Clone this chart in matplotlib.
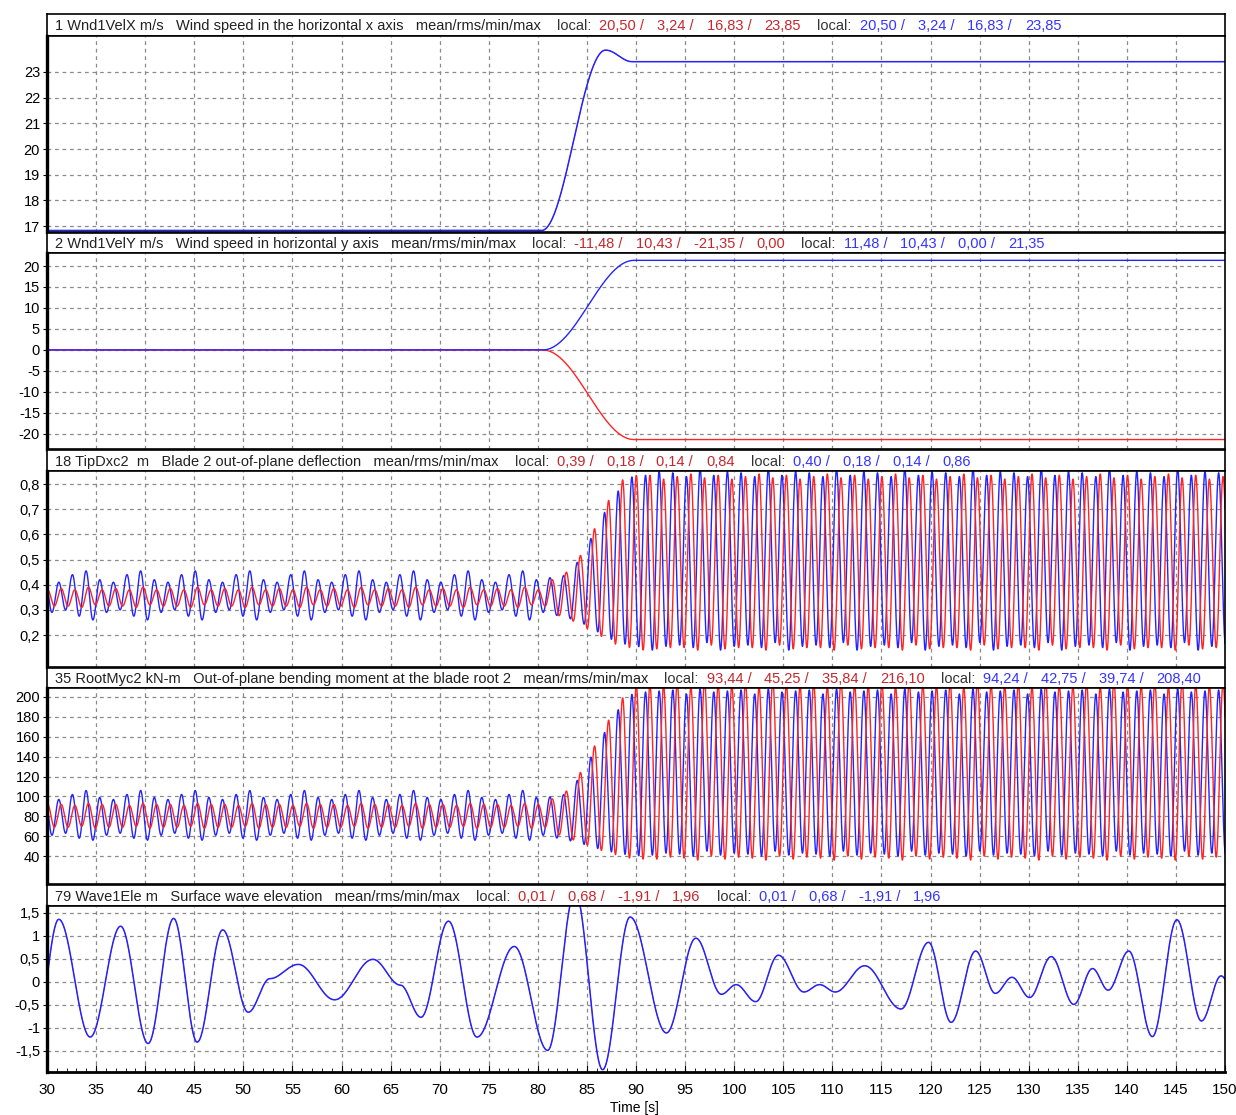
import numpy as np
import matplotlib
matplotlib.use("Agg")
import matplotlib.pyplot as plt
from matplotlib.ticker import MultipleLocator, FuncFormatter

plt.rcParams['font.family'] = ['Liberation Sans', 'DejaVu Sans']

BLUE = '#2323ff'
RED = '#ff2323'
TXT_RED = '#c4282c'
TXT_BLUE = '#3434ff'

# ---- channel 1 / 2: wind speed components (turning points) ----
wx_t = [30.0, 80.4, 86.9, 89.6, 150.0]
wx_v = [16.83, 16.83, 23.85, 23.40, 23.40]
wy_t = [30.0, 80.5, 89.8, 150.0]
wy_blue = [0.0, 0.0, 21.35, 21.35]
wy_red = [0.0, 0.0, -21.35, -21.35]

# ---- blade signals: rotor period and per-cycle peaks/troughs ----
rot_period = 1.39
first_peak = 31.2
ramp_t = [80.4, 81.8, 83.3, 84.6, 86.0, 87.4, 88.7, 90.1]
lag_t = [30.0, 80.0, 88.0, 150.0]
lag_red = [0.25, 0.2, 0.45, 0.45]

tip_pre_blue_hi = [0.41, 0.44, 0.455, 0.42]
tip_pre_blue_lo = [0.30, 0.275, 0.26, 0.29]
tip_pre_red_hi = [0.385, 0.38, 0.39, 0.38]
tip_pre_red_lo = [0.315, 0.31, 0.32, 0.315]
tip_ramp_blue_hi = [0.44, 0.42, 0.45, 0.52, 0.63, 0.73, 0.80, 0.845]
tip_ramp_blue_lo = [0.29, 0.27, 0.26, 0.23, 0.20, 0.17, 0.16, 0.15]
tip_ramp_red_hi = [0.42, 0.42, 0.46, 0.53, 0.64, 0.75, 0.82, 0.835]
tip_ramp_red_lo = [0.30, 0.27, 0.25, 0.22, 0.19, 0.16, 0.15, 0.14]
tip_post_blue_hi = [0.845, 0.83, 0.86, 0.835, 0.85]
tip_post_blue_lo = [0.16, 0.15, 0.17, 0.14, 0.155]
tip_post_red_hi = [0.83, 0.84, 0.825, 0.835, 0.82]
tip_post_red_lo = [0.15, 0.14, 0.16, 0.145, 0.15]

root_pre_blue_hi = [97, 102, 106, 99]
root_pre_blue_lo = [63, 58, 56, 61]
root_pre_red_hi = [92, 91, 93, 92]
root_pre_red_lo = [69, 70, 68, 69]
root_ramp_blue_hi = [102, 98, 105, 125, 150, 175, 195, 207]
root_ramp_blue_lo = [60, 57, 54, 50, 46, 43, 41, 40]
root_ramp_red_hi = [96, 98, 108, 128, 155, 180, 200, 212]
root_ramp_red_lo = [66, 60, 55, 50, 45, 41, 38, 37]
root_post_blue_hi = [207, 203, 208, 205, 206]
root_post_blue_lo = [42, 40, 45, 41, 43]
root_post_red_hi = [214, 210, 216, 212, 211]
root_post_red_lo = [38, 36, 40, 37, 39]

# ---- channel 79: wave elevation turning points ----
wave_t = [28.8, 31.2, 34.4, 37.5, 40.3, 42.9, 45.3, 47.9, 50.5, 52.7, 55.6, 59.3,
          63.2, 66.0, 68.1, 70.9, 73.8, 77.6, 81.0, 83.8, 86.6, 89.4, 93.1, 96.1,
          98.7, 100.2, 102.2, 104.5, 107.1, 108.7, 110.3, 113.3, 117.0, 119.8, 122.1,
          124.6, 126.6, 128.3, 130.1, 132.3, 134.6, 136.5, 138.1, 140.2, 142.6, 145.1,
          147.6, 149.6, 151.5]
wave_v = [-1.2, 1.36, -1.2, 1.21, -1.34, 1.38, -1.31, 1.13, -0.66, 0.07, 0.38, -0.39,
          0.49, -0.07, -0.77, 1.32, -1.2, 0.77, -1.49, 1.96, -1.91, 1.41, -1.11, 0.95,
          -0.27, -0.06, -0.43, 0.58, -0.22, -0.06, -0.22, 0.35, -0.59, 0.86, -0.88,
          0.67, -0.25, 0.10, -0.34, 0.55, -0.49, 0.29, -0.18, 0.67, -1.19, 1.35,
          -0.85, 0.13, -0.6]

# header statistics: mean / rms / min / max
stats = [
    ([20.50, 3.24, 16.83, 23.85], [20.50, 3.24, 16.83, 23.85]),
    ([-11.48, 10.43, -21.35, 0.00], [11.48, 10.43, 0.00, 21.35]),
    ([0.39, 0.18, 0.14, 0.84], [0.40, 0.18, 0.14, 0.86]),
    ([93.44, 45.25, 35.84, 216.10], [94.24, 42.75, 39.74, 208.40]),
    ([0.01, 0.68, -1.91, 1.96], [0.01, 0.68, -1.91, 1.96]),
]
titles = [
    "1 Wnd1VelX m/s   Wind speed in the horizontal x axis   mean/rms/min/max",
    "2 Wnd1VelY m/s   Wind speed in horizontal y axis   mean/rms/min/max",
    "18 TipDxc2  m   Blade 2 out-of-plane deflection   mean/rms/min/max",
    "35 RootMyc2 kN-m   Out-of-plane bending moment at the blade root 2   mean/rms/min/max",
    "79 Wave1Ele m   Surface wave elevation   mean/rms/min/max",
]
yticks = [
    [17, 18, 19, 20, 21, 22, 23],
    [-20, -15, -10, -5, 0, 5, 10, 15, 20],
    [0.2, 0.3, 0.4, 0.5, 0.6, 0.7, 0.8],
    [40, 60, 80, 100, 120, 140, 160, 180, 200],
    [-1.5, -1, -0.5, 0, 0.5, 1, 1.5],
]
ylims = [(16.77, 24.4), (-23.6, 23.1), (0.073, 0.852), (12, 209), (-1.96, 1.65)]
rows = [(14, 36, 232), (233, 253, 449), (450, 471, 667), (668, 688, 884), (885, 906, 1072)]

t = np.linspace(30, 150, 24001)


def through(tk, vk):
    # half-cosine segments between successive turning points
    tk = np.asarray(tk, float)
    vk = np.asarray(vk, float)
    i = np.clip(np.searchsorted(tk, t, side='right') - 1, 0, len(tk) - 2)
    s = np.clip((t - tk[i]) / (tk[i + 1] - tk[i]), 0, 1)
    return vk[i] + (vk[i + 1] - vk[i]) * (1 - np.cos(np.pi * s)) / 2


def blade(pre_hi, pre_lo, ramp_hi, ramp_lo, post_hi, post_lo, lag=None):
    tk, vk = [], []
    for k in range(-1, 88):
        tp = first_peak + k * rot_period
        if lag is not None:
            tp += np.interp(tp, lag_t, lag)
        if tp < ramp_t[0]:
            hi, lo = pre_hi[k % len(pre_hi)], pre_lo[k % len(pre_lo)]
        elif tp <= ramp_t[-1]:
            hi, lo = np.interp(tp, ramp_t, ramp_hi), np.interp(tp, ramp_t, ramp_lo)
        else:
            hi, lo = post_hi[k % len(post_hi)], post_lo[k % len(post_lo)]
        tk += [tp, tp + rot_period / 2]
        vk += [hi, lo]
    return through(tk, vk)


# (colour, values, linewidth) drawn in order
series = [
    [(RED, through(wx_t, wx_v), 0.5), (BLUE, through(wx_t, wx_v), 1.1)],
    [(RED, through(wy_t, wy_red), 1.0), (BLUE, through(wy_t, wy_blue), 1.0)],
    [(BLUE, blade(tip_pre_blue_hi, tip_pre_blue_lo, tip_ramp_blue_hi, tip_ramp_blue_lo,
                  tip_post_blue_hi, tip_post_blue_lo), 1.0),
     (RED, blade(tip_pre_red_hi, tip_pre_red_lo, tip_ramp_red_hi, tip_ramp_red_lo,
                 tip_post_red_hi, tip_post_red_lo, lag_red), 1.0)],
    [(BLUE, blade(root_pre_blue_hi, root_pre_blue_lo, root_ramp_blue_hi, root_ramp_blue_lo,
                  root_post_blue_hi, root_post_blue_lo), 1.0),
     (RED, blade(root_pre_red_hi, root_pre_red_lo, root_ramp_red_hi, root_ramp_red_lo,
                 root_post_red_hi, root_post_red_lo, lag_red), 1.0)],
    [(RED, through(wave_t, wave_v), 0.5), (BLUE, through(wave_t, wave_v), 1.1)],
]

W, H = 1236, 1115
fig = plt.figure(figsize=(W / 100, H / 100), dpi=100)


def box(x0, y0, x1, y1):
    return [x0 / W, 1 - y1 / H, (x1 - x0) / W, (y1 - y0) / H]


comma = FuncFormatter(lambda v, p: f"{v:g}".replace('.', ','))
fmt = lambda v: f"{v:.2f}".replace('.', ',')
FS = 10.5

for n, (top, mid, bot) in enumerate(rows):
    # header strip
    hax = fig.add_axes(box(47, top, 1225, mid))
    hax.set_xticks([])
    hax.set_yticks([])
    for sp in hax.spines.values():
        sp.set_linewidth(1.2)
    prev = hax.text(8 / 1178, 0.45, titles[n], va='center', ha='left',
                    fontsize=FS, color='#222222')
    red, blue = stats[n]
    pieces = []
    for vals, col in ((red, TXT_RED), (blue, TXT_BLUE)):
        pieces.append(("local:", '#333333', 16))
        for i, v in enumerate(vals):
            pieces.append((fmt(v) + (" /" if i < 3 else ""), col, 8 if i == 0 else 13))
    for txt, col, gap in pieces:
        prev = hax.annotate(txt, xy=(1, 0.5), xycoords=prev, xytext=(gap, 0),
                            textcoords='offset pixels', va='center', ha='left',
                            fontsize=FS, color=col)

    # plot area
    ax = fig.add_axes(box(47, mid, 1225, bot))
    for col, y, lw in series[n]:
        ax.plot(t, y, color=col, lw=lw)
    ax.set_xlim(30, 150)
    ax.set_ylim(*ylims[n])
    ax.xaxis.set_major_locator(MultipleLocator(5))
    ax.set_yticks(yticks[n])
    ax.yaxis.set_major_formatter(comma)
    ax.grid(True, ls=(0, (3, 3)), color='#8a8a8a', lw=0.9)
    ax.tick_params(axis='y', direction='out', length=3, labelsize=10.5, pad=2)
    for sp in ax.spines.values():
        sp.set_linewidth(1.2)
    ax.spines['left'].set_linewidth(2.4)
    if n < 4:
        ax.tick_params(axis='x', length=0, labelbottom=False)
    else:
        ax.xaxis.set_minor_locator(MultipleLocator(1))
        ax.tick_params(axis='x', which='major', direction='in', length=5, labelsize=11, pad=8)
        ax.tick_params(axis='x', which='minor', direction='in', length=3)
        ax.spines['bottom'].set_linewidth(2.0)

fig.text(634 / W, 1 - 1108 / H, "Time [s]", ha='center', va='center', fontsize=10)

fig.savefig("out.png", dpi=100)
